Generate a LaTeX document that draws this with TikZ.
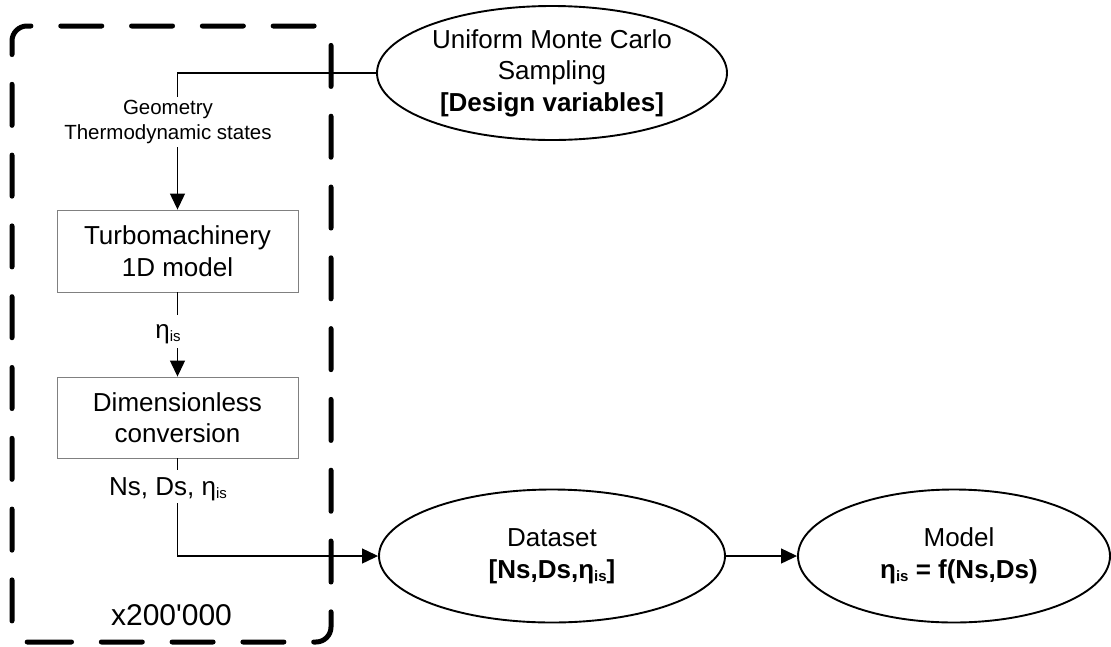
\documentclass[tikz,border=0pt]{standalone}
\usepackage{fontspec}
\setmainfont{Liberation Sans}
\usetikzlibrary{shapes.geometric,arrows.meta}

% efficiency symbol with its "is" subscript
\newcommand\etais{η\raisebox{-3.5pt}{\fontsize{15}{15}\selectfont is}}

\tikzset{
  base/.style={font=\fontsize{26}{31.5}\selectfont},
  oval/.style={draw, ellipse, line width=1.9pt, inner sep=0pt, align=center, base},
  blk/.style={draw=black!50, line width=0.9pt, minimum width=241pt, inner sep=0pt, align=center, base},
  conn/.style={line width=1.2pt},
  tip/.style={-{Triangle[length=16pt,width=15pt]}},
  lbl/.style={fill=white, inner sep=0pt, align=center, base},
  loopframe/.style={line width=5pt, line cap=round, dash pattern=on 41pt off 29.8pt, rounded corners=15pt}
}

\begin{document}
\begin{tikzpicture}[x=1pt,y=-1pt]
\useasboundingbox (0,0) rectangle (1111,646);

% repeated evaluation loop
\draw[loopframe] (30.5,642) -- (331,642) -- (331,26) -- (12,26) -- (12,642) -- (30.5,642);

% blocks
\node[oval, minimum width=350pt, minimum height=134pt] (mc) at (552,73)
  {Uniform Monte Carlo\\Sampling\\\textbf{[Design variables]}};
\node[blk, minimum height=82pt] (tm) at (177.5,251) {Turbomachinery\\1D model};
\node[blk, minimum height=81pt] (dc) at (177.5,417.5) {Dimensionless\\conversion};
\node[oval, minimum width=346pt, minimum height=133pt] (ds) at (552,556)
  {Dataset\\\textbf{[Ns,Ds,\etais]}};
\node[oval, minimum width=312pt, minimum height=133pt] (md) at (954,556)
  {\hspace*{10pt}Model\\\hspace*{10pt}\textbf{\etais{} = f(Ns,Ds)}};

% connectors
\draw[conn,tip] (mc.west) -| (tm.north);
\draw[conn,tip] (tm.south) -- (dc.north);
\draw[conn,tip] (dc.south) |- (ds.west);
\draw[conn,tip] (ds.east) -- (md.west);

% connector labels
\node[lbl, font=\fontsize{20.5}{25}\selectfont, minimum height=50pt] (geo) at (168,121.7)
  {Geometry\\Thermodynamic states};
\node[lbl, text height=23pt, text depth=10pt] (eta) at (168,331.5) {\etais};
\node[lbl, text height=25pt, text depth=8pt] (nds) at (168,486.5) {Ns, Ds, \etais};

% loop count
\node[font=\fontsize{30}{30}\selectfont, anchor=base, inner sep=0pt] (cnt) at (171.5,625)
  {x200\textquotesingle 000};
\end{tikzpicture}
\end{document}
